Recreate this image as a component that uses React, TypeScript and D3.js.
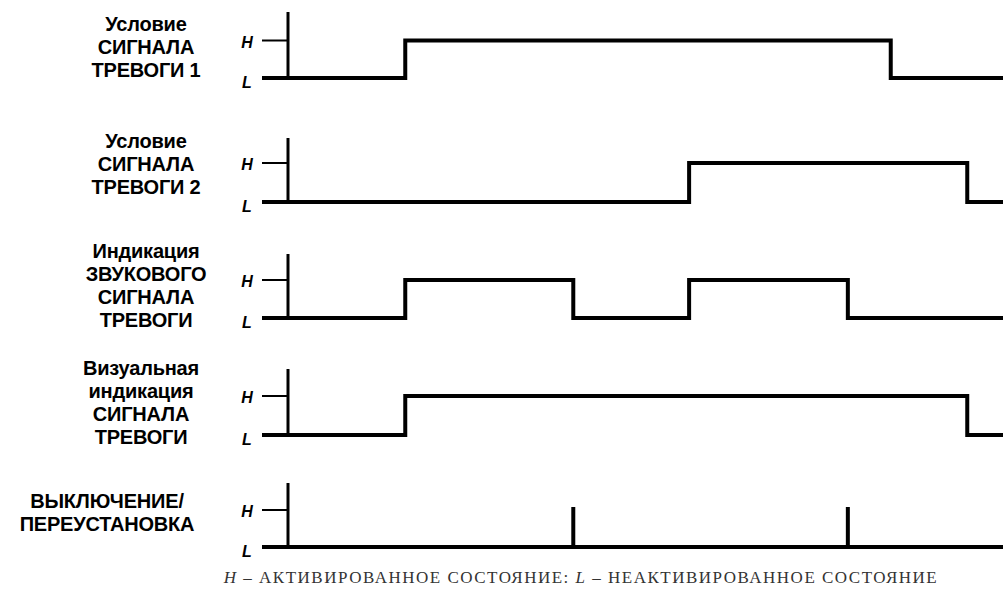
import React, { useRef, useEffect } from "react";
import * as d3 from "d3";

// time points (0..100 of the time axis) where signals change
const alarm1: [number, number][] = [[0, 0], [16.4, 1], [84.3, 0], [100, 0]];
const alarm2: [number, number][] = [[0, 0], [56.1, 1], [95.0, 0], [100, 0]];
const audible: [number, number][] = [[0, 0], [16.4, 1], [39.9, 0], [56.1, 1], [78.3, 0], [100, 0]];
const visual: [number, number][] = [[0, 0], [16.4, 1], [95.0, 0], [100, 0]];
const silence: [number, number][] = [[0, 0], [100, 0]];
const silencePulses = [39.9, 78.3];

const labels = [
  ["Условие", "СИГНАЛА", "ТРЕВОГИ 1"],
  ["Условие", "СИГНАЛА", "ТРЕВОГИ 2"],
  ["Индикация", "ЗВУКОВОГО", "СИГНАЛА", "ТРЕВОГИ"],
  ["Визуальная", "индикация", "СИГНАЛА", "ТРЕВОГИ"],
  ["ВЫКЛЮЧЕНИЕ/", "ПЕРЕУСТАНОВКА"],
];
const levelNames = ["L", "H"];
const caption = ["H", " – АКТИВИРОВАННОЕ СОСТОЯНИЕ: ", "L", " – НЕАКТИВИРОВАННОЕ СОСТОЯНИЕ"];

const signals = [alarm1, alarm2, audible, visual, silence];

// layout of each row: y of L, y of H, top of axis, label centre, first label baseline
const rows = [
  { low: 78, high: 40.5, top: 12, cx: 146, base: 31 },
  { low: 202, high: 163, top: 138, cx: 146, base: 148 },
  { low: 318, high: 280, top: 254, cx: 146, base: 258 },
  { low: 435, high: 396, top: 369, cx: 141, base: 375 },
  { low: 547, high: 510, top: 483, cx: 107, base: 508 },
];

const App: React.FC = () => {
  const svg = useRef<SVGSVGElement>(null);
  const width = 1003;
  const height = 601;

  useEffect(() => {
    const root = d3.select(svg.current);
    root.selectAll("*").remove();
    root.attr("width", width).attr("height", height);

    const x = d3.scaleLinear().domain([0, 100]).range([288, 1003]);

    rows.forEach((r, i) => {
      const y = d3.scaleLinear().domain([0, 1]).range([r.low, r.high]);
      const g = root.append("g");

      // vertical axis
      g.append("line")
        .attr("x1", x(0)).attr("x2", x(0))
        .attr("y1", r.top).attr("y2", y(0))
        .attr("stroke", "#000").attr("stroke-width", 3);

      // H / L ticks
      g.append("line")
        .attr("x1", 262).attr("x2", x(0))
        .attr("y1", y(1)).attr("y2", y(1))
        .attr("stroke", "#000").attr("stroke-width", 2);
      g.append("line")
        .attr("x1", 262).attr("x2", x(0))
        .attr("y1", y(0)).attr("y2", y(0))
        .attr("stroke", "#000").attr("stroke-width", 4);

      g.selectAll("text.lvl")
        .data(levelNames)
        .join("text")
        .attr("class", "lvl")
        .attr("x", 247)
        .attr("y", (d, k) => y(k) + (k ? 7 : 10))
        .attr("text-anchor", "middle")
        .attr("font-family", "Liberation Sans, Arial, sans-serif")
        .attr("font-weight", "bold")
        .attr("font-style", "italic")
        .attr("font-size", 16)
        .text((d) => d);

      // signal trace
      const line = d3
        .line<[number, number]>()
        .x((d) => x(d[0]))
        .y((d) => y(d[1]))
        .curve(d3.curveStepAfter);
      g.append("path")
        .datum(signals[i])
        .attr("d", line)
        .attr("fill", "none")
        .attr("stroke", "#000")
        .attr("stroke-width", 4)
        .attr("stroke-linejoin", "miter");

      if (i === 4) {
        g.selectAll("line.pulse")
          .data(silencePulses)
          .join("line")
          .attr("class", "pulse")
          .attr("x1", (d) => x(d)).attr("x2", (d) => x(d))
          .attr("y1", y(0)).attr("y2", y(1) - 3)
          .attr("stroke", "#000").attr("stroke-width", 4);
      }

      // row label
      g.selectAll("text.lab")
        .data(labels[i])
        .join("text")
        .attr("class", "lab")
        .attr("x", r.cx)
        .attr("y", (d, k) => r.base + k * 23)
        .attr("text-anchor", "middle")
        .attr("font-family", "Liberation Sans, Arial, sans-serif")
        .attr("font-weight", "bold")
        .attr("font-size", 20)
        .attr("letter-spacing", -0.2)
        .text((d) => d);
    });

    const cap = root.append("text")
      .attr("x", 581)
      .attr("y", 583)
      .attr("text-anchor", "middle")
      .attr("font-family", "Liberation Serif, serif")
      .attr("font-size", 17)
      .attr("letter-spacing", 1.5)
      .attr("fill", "#333");
    cap.selectAll("tspan")
      .data(caption)
      .join("tspan")
      .attr("font-style", (d, k) => (k % 2 === 0 ? "italic" : "normal"))
      .text((d) => d);
  }, []);

  return (
    <svg ref={svg} style={{ position: "absolute", left: 0, top: 0, background: "#fff" }}></svg>
  );
};

export default App;
